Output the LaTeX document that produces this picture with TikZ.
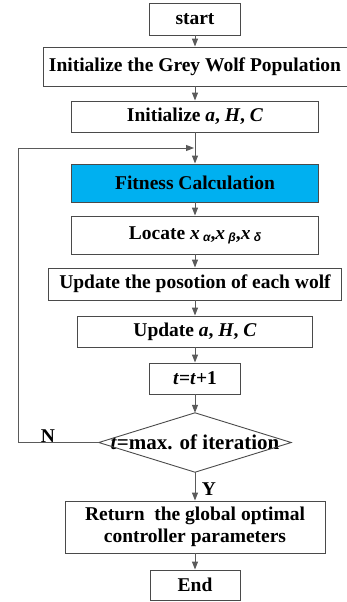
\documentclass[tikz,border=0pt]{standalone}
\usepackage{fontspec}
\setmainfont{Liberation Serif}
\setsansfont{Liberation Sans}
\usetikzlibrary{arrows.meta}
\definecolor{linegray}{HTML}{5A5A5A}
\definecolor{boxgray}{HTML}{4A4A4A}
\definecolor{fitblue}{HTML}{00B0F0}
\newcommand{\gsub}[1]{\raisebox{-0.25ex}{\sffamily\bfseries\itshape\fontsize{12}{12}\selectfont #1}}
\tikzset{
  x=1pt, y=-1pt,
  stepbox/.style={draw=boxgray, line width=0.9pt, rectangle, inner sep=2pt,
    font=\fontsize{19.5}{22.5}\selectfont\bfseries, align=center},
  arr/.style={draw=linegray, line width=1pt, -{Triangle[width=6pt,length=8pt]}},
  lbl/.style={font=\fontsize{19.5}{22.5}\selectfont\bfseries, inner sep=0pt}
}
\begin{document}
\begin{tikzpicture}
\useasboundingbox (0,0) rectangle (346,602);
\node[stepbox, minimum width=91, minimum height=32] (start) at (195,19) {start};
\node[stepbox, minimum width=304, minimum height=39] (pop) at (195,66.5) {Initialize the Grey Wolf Population};
\node[stepbox, minimum width=247, minimum height=31] (init) at (195,116.5) {Initialize \textit{a}, \textit{H}, \textit{C}};
\node[stepbox, fill=fitblue, minimum width=247, minimum height=38] (fit) at (195,183) {Fitness Calculation};
\node[stepbox, minimum width=247, minimum height=38] (loc) at (195,235)
  {Locate \textit{x}\,\gsub{α},\textit{x}\,\gsub{β},\textit{x}\,\gsub{δ}};
\node[stepbox, minimum width=293, minimum height=32] (upd) at (195,284) {Update the posotion of each wolf};
\node[stepbox, minimum width=235, minimum height=31] (updp) at (195,331.5) {Update \textit{a}, \textit{H}, \textit{C}};
\node[stepbox, minimum width=91, minimum height=31] (inc) at (195,378.5) {\textit{t}=\textit{t}+1};
\node[lbl, font=\fontsize{21}{24}\selectfont\bfseries, minimum width=192, minimum height=59] (dec) at (195,442.5) {\textit{t}=max. of iteration};
\draw[draw=boxgray, line width=0.9pt] (dec.north) -- (dec.east) -- (dec.south) -- (dec.west) -- cycle;
\node[stepbox, minimum width=260, minimum height=52] (ret) at (195,527) {Return\ \ the global optimal\\controller parameters};
\node[stepbox, minimum width=90, minimum height=30] (end) at (195,585) {End};

% main flow
\draw[arr] (start) -- (pop);
\draw[arr] (pop) -- (init);
\draw[arr] (init) -- (fit);
\draw[arr] (fit) -- (loc);
\draw[arr] (loc) -- (upd);
\draw[arr] (upd) -- (updp);
\draw[arr] (updp) -- (inc);
\draw[arr] (inc) -- (dec.north);
\draw[arr] (dec.south) -- (ret);
\draw[arr] (ret) -- (end);

% loop back when the iteration limit is not reached
\coordinate (corner) at (18,442.5);
\coordinate (join) at (194,148);
\draw[arr] (dec.west) -- (corner) |- (join);
\node[lbl] (no) at (48,436) {N};
\node[lbl] (yes) at (209,489) {Y};
\end{tikzpicture}
\end{document}
